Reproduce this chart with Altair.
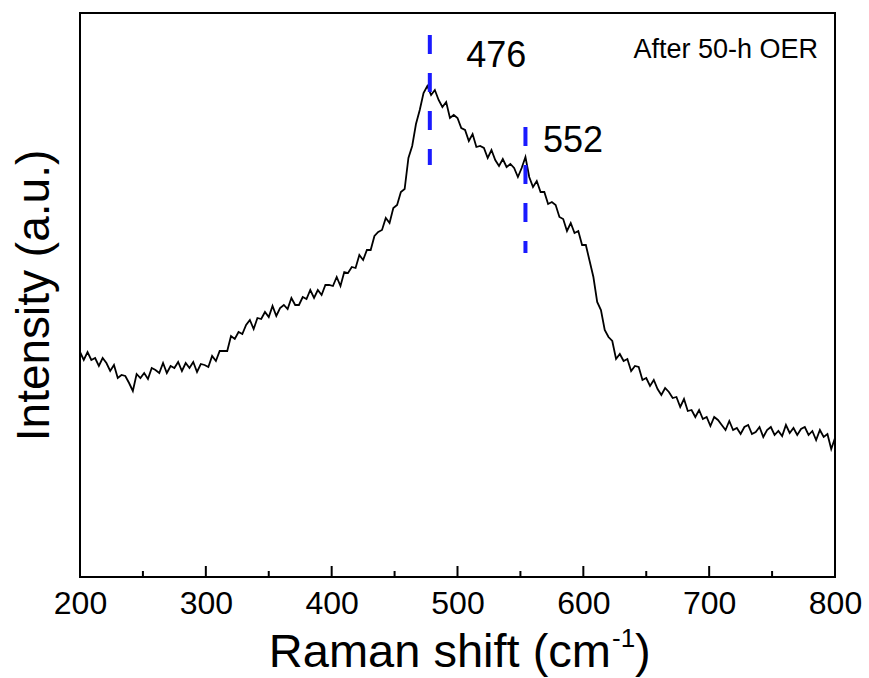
import altair as alt
import pandas as pd

FONT = "Liberation Sans"

# Raman shift grid (cm^-1) and intensity (a.u.)
raman_shift = list(range(200, 801, 3))
intensity = [
    225, 217, 225, 217, 219, 211, 219, 214, 206, 212, 199, 202, 201, 194, 186, 203, 199, 204, 198, 209,
    207, 204, 214, 204, 211, 209, 215, 206, 214, 209, 215, 205, 213, 212, 210, 221, 216, 226, 226, 226,
    241, 238, 245, 243, 252, 257, 248, 259, 258, 265, 260, 271, 261, 269, 272, 268, 279, 272, 272, 280,
    278, 287, 279, 287, 282, 292, 292, 291, 300, 291, 305, 304, 310, 309, 322, 317, 327, 327, 341, 345,
    347, 359, 354, 369, 372, 385, 388, 419, 431, 453, 467, 484, 491, 482, 487, 477, 470, 475, 459, 462,
    459, 449, 447, 436, 443, 430, 431, 429, 419, 427, 417, 411, 418, 410, 413, 409, 400, 409, 420, 400,
    390, 396, 385, 385, 373, 375, 372, 360, 358, 346, 354, 344, 346, 332, 332, 316, 300, 275, 267, 247,
    240, 236, 218, 223, 216, 218, 206, 211, 210, 197, 199, 191, 197, 188, 182, 189, 185, 179, 180, 170,
    178, 166, 167, 160, 167, 158, 160, 151, 160, 157, 152, 147, 156, 147, 149, 143, 150, 152, 143, 145,
    150, 140, 147, 150, 142, 146, 141, 152, 144, 149, 142, 148, 150, 142, 146, 137, 147, 140, 143, 128,
    139,
]

peak_positions = [478, 554]
peak_labels = ["476", "552"]
peak_line_top = [542, 450]
peak_line_bottom = [412, 324]
peak_label_x = [507, 568]
peak_label_y = [510, 425]

major_ticks = [200, 300, 400, 500, 600, 700, 800]
minor_ticks = [250, 350, 450, 550, 650, 750]

annotation = "After 50-h OER"
x_title_main = "Raman shift (cm"
x_title_sup = "-1"
x_title_end = ")"
y_title = "Intensity (a.u.)"

W, H = 755, 564

spec_df = pd.DataFrame({"shift": raman_shift, "intensity": intensity})
peaks_df = pd.DataFrame({
    "pos": peak_positions, "label": peak_labels,
    "top": peak_line_top, "bottom": peak_line_bottom,
    "lx": peak_label_x, "ly": peak_label_y,
})
major_df = pd.DataFrame({"t": major_ticks})
minor_df = pd.DataFrame({"t": minor_ticks})
text_df = pd.DataFrame({"a": [annotation]})

xs = alt.Scale(domain=[200, 800], nice=False, zero=False)
ys = alt.Scale(domain=[0, 564], nice=False, zero=False)

line = alt.Chart(spec_df).mark_line(color="black", strokeWidth=1.8).encode(
    x=alt.X("shift:Q", scale=xs, axis=alt.Axis(
        values=major_ticks, ticks=False, domain=False, grid=False,
        labelFont=FONT, labelFontSize=32, labelColor="black",
        labelPadding=11, labelFlush=False, title=None)),
    y=alt.Y("intensity:Q", scale=ys, axis=alt.Axis(
        labels=False, ticks=False, domain=False, grid=False,
        title=y_title, titleFont=FONT, titleFontSize=46,
        titleFontWeight="normal", titleColor="black", titlePadding=22)),
)

dashes = alt.Chart(peaks_df).mark_rule(
    color="#1a1aff", strokeWidth=4, strokeDash=[19, 19]
).encode(
    x=alt.X("pos:Q", scale=xs),
    y=alt.Y("top:Q", scale=ys),
    y2="bottom:Q",
)

labels = alt.Chart(peaks_df).mark_text(
    align="left", baseline="alphabetic", font=FONT, fontSize=36, color="black"
).encode(
    x=alt.X("lx:Q", scale=xs),
    y=alt.Y("ly:Q", scale=ys),
    text="label:N",
)

major = alt.Chart(major_df).mark_rule(color="black", strokeWidth=2).encode(
    x=alt.X("t:Q", scale=xs), y=alt.value(H), y2=alt.value(H - 11)
)
minor = alt.Chart(minor_df).mark_rule(color="black", strokeWidth=2).encode(
    x=alt.X("t:Q", scale=xs), y=alt.value(H), y2=alt.value(H - 6)
)

ann = alt.Chart(text_df).mark_text(
    align="right", baseline="alphabetic", font=FONT, fontSize=27, color="black"
).encode(x=alt.value(738), y=alt.value(45), text="a:N")

xt1 = alt.Chart(text_df).mark_text(
    align="right", baseline="alphabetic", font=FONT, fontSize=47, color="black"
).encode(x=alt.value(531), y=alt.value(654), text=alt.value(x_title_main))
xt2 = alt.Chart(text_df).mark_text(
    align="left", baseline="alphabetic", font=FONT, fontSize=26, color="black"
).encode(x=alt.value(532), y=alt.value(634), text=alt.value(x_title_sup))
xt3 = alt.Chart(text_df).mark_text(
    align="left", baseline="alphabetic", font=FONT, fontSize=47, color="black"
).encode(x=alt.value(555), y=alt.value(654), text=alt.value(x_title_end))

chart = alt.layer(line, dashes, labels, major, minor, ann, xt1, xt2, xt3).properties(
    width=W, height=H,
    autosize=alt.AutoSizeParams(type="none"),
    padding={"left": 80, "top": 13, "right": 34, "bottom": 101},
).configure_view(stroke="black", strokeWidth=2)

chart.save("out.html", embed_options={"renderer": "svg", "actions": False})
